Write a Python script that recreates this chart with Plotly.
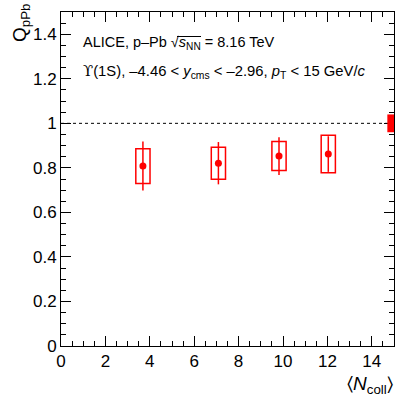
import plotly.graph_objects as go

# Q_pPb of Upsilon(1S) vs <Ncoll>
NCOLL = [3.69, 7.09, 9.82, 12.04]
QPPB = [0.808, 0.821, 0.853, 0.862]
STAT_ERR = [0.11, 0.095, 0.085, 0.08]
SYST_ERR = [0.078, 0.072, 0.065, 0.084]
GLOBAL_UNC = 0.04

X_TICKS = [0, 2, 4, 6, 8, 10, 12, 14]
Y_TICKS = [0, 0.2, 0.4, 0.6, 0.8, 1, 1.2, 1.4]

RED = '#ff0000'
FONT = 'Liberation Sans, Arial, sans-serif'
BOX_HW = 0.32

# plot area in pixels (for placing text in paper coords)
L, R, T, B = 61, 13, 12, 52
PW, PH = 407 - L - R, 398 - T - B


def px(x):
    return (x - L) / PW


def py(y):
    return (398 - B - y) / PH


fig = go.Figure()

# stat errors + points
fig.add_trace(go.Scatter(
    x=NCOLL, y=QPPB, mode='markers',
    marker=dict(color=RED, size=7),
    error_y=dict(type='data', array=STAT_ERR, color=RED, thickness=1.5, width=0),
    showlegend=False
))

shapes = []
# syst boxes
for xc, yc, s in zip(NCOLL, QPPB, SYST_ERR):
    shapes.append(dict(type='rect', xref='x', yref='y',
                       x0=xc - BOX_HW, x1=xc + BOX_HW, y0=yc - s, y1=yc + s,
                       line=dict(color=RED, width=1.5), fillcolor='rgba(0,0,0,0)'))
# unity line
shapes.append(dict(type='line', xref='x', yref='y', x0=0, x1=15, y0=1, y1=1,
                   line=dict(color='black', width=1, dash='dot')))
# global uncertainty box at the right edge
shapes.append(dict(type='rect', xref='x', yref='y', x0=15 - 0.3, x1=15,
                   y0=1 - GLOBAL_UNC, y1=1 + GLOBAL_UNC,
                   line=dict(width=0), fillcolor=RED))
# overline of the square root
shapes.append(dict(type='line', xref='paper', yref='paper',
                   x0=px(177), x1=px(201), y0=py(36.5), y1=py(36.5),
                   line=dict(color='black', width=1)))

UPS = '<span style="font-family:DejaVu Serif">\u03d2</span>'
annotations = [
    dict(text='ALICE, p\u2013Pb \u221a<i>s</i><sub>NN</sub> = 8.16 TeV',
         xref='paper', yref='paper', x=px(81), y=py(43), xanchor='left', yanchor='middle',
         showarrow=False, font=dict(size=14.5, color='black', family=FONT)),
    dict(text=UPS + '(1S), \u20134.46 &lt; <i>y</i><sub>cms</sub> &lt; \u20132.96, '
              '<i>p</i><sub>T</sub> &lt; 15 GeV/<i>c</i>',
         xref='paper', yref='paper', x=px(81), y=py(71), xanchor='left', yanchor='middle',
         showarrow=False, font=dict(size=14.8, color='black', family=FONT)),
    dict(text='Q<sub>pPb</sub>', textangle=-90,
         xref='paper', yref='paper', x=px(21), y=py(2), xanchor='center', yanchor='top',
         showarrow=False, font=dict(size=19, color='black', family=FONT)),
    dict(text='\u2329<i>N</i><sub>coll</sub>\u232a',
         xref='paper', yref='paper', x=px(395), y=py(385), xanchor='right', yanchor='middle',
         showarrow=False, font=dict(size=19, color='black', family=FONT)),
]

axis_common = dict(
    showline=True, linecolor='black', linewidth=1, mirror='allticks',
    ticks='inside', ticklen=10, tickcolor='black', tickwidth=1,
    showgrid=False, zeroline=False,
    tickfont=dict(size=17, color='black', family=FONT),
)

fig.update_xaxes(range=[0, 15], tickvals=X_TICKS,
                 minor=dict(dtick=0.5, ticklen=5, tickcolor='black', ticks='inside', showgrid=False),
                 **axis_common)
fig.update_yaxes(range=[0, 1.5], tickvals=Y_TICKS,
                 minor=dict(dtick=0.05, ticklen=5, tickcolor='black', ticks='inside', showgrid=False),
                 **axis_common)

fig.update_layout(
    width=407, height=398,
    margin=dict(l=L, r=R, t=T, b=B),
    paper_bgcolor='white', plot_bgcolor='white',
    font=dict(family=FONT, color='black'),
    shapes=shapes, annotations=annotations,
    showlegend=False,
)

fig.write_html("out.html", config={'displayModeBar': False},
               post_script="document.body.style.margin='0';")
